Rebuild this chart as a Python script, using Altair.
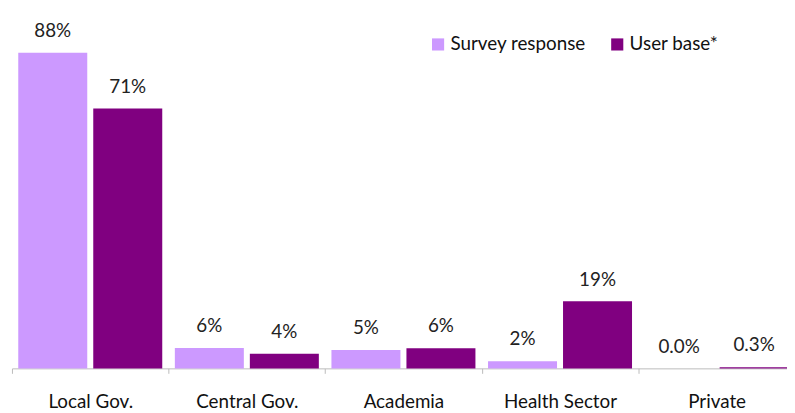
import altair as alt
import pandas as pd

categories = ["Local Gov.", "Central Gov.", "Academia", "Health Sector", "Private"]
series = ["Survey response", "User base*"]
survey = [88.1, 5.7, 5.1, 2.0, 0.0]
userbase = [72.5, 4.1, 5.6, 18.7, 0.3]
survey_labels = ["88%", "6%", "5%", "2%", "0.0%"]
userbase_labels = ["71%", "4%", "6%", "19%", "0.3%"]

rows = []
for i, c in enumerate(categories):
    rows.append({"cat": c, "series": series[0], "value": survey[i], "label": survey_labels[i]})
    rows.append({"cat": c, "series": series[1], "value": userbase[i], "label": userbase_labels[i]})
df = pd.DataFrame(rows)

FONT = "Lato"
FS = 19

x = alt.X("cat:N", sort=categories, title=None,
          scale=alt.Scale(paddingInner=0, paddingOuter=0),
          axis=alt.Axis(tickBand="extent", labelAngle=0, labelFontSize=FS, labelFont=FONT,
                        labelColor="#111", domainColor="#bbbbbb", tickColor="#bbbbbb",
                        tickSize=5, labelPadding=20, grid=False))
xo = alt.XOffset("series:N", sort=series,
                 scale=alt.Scale(paddingInner=0.08, paddingOuter=0.084))
y = alt.Y("value:Q", scale=alt.Scale(domain=[0, 100]), axis=None)

bars = alt.Chart(df).mark_bar().encode(
    x=x, xOffset=xo, y=y,
    color=alt.Color("series:N", sort=series,
                    scale=alt.Scale(domain=series, range=["#CC99FF", "#800080"]),
                    legend=alt.Legend(title=None, orient="none", legendX=421, legendY=25,
                                      direction="horizontal", symbolType="square",
                                      symbolSize=150, symbolStrokeWidth=0,
                                      labelFontSize=FS, labelFont=FONT, labelColor="#111",
                                      columnPadding=22, labelOffset=3)),
)

text = alt.Chart(df).mark_text(dy=-22, fontSize=FS, font=FONT, color="#222").encode(
    x=x, xOffset=xo, y=y, text="label:N"
)

chart = (bars + text).properties(
    width=791, height=362,
    autosize=alt.AutoSizeParams(type="none"),
    padding={"left": 4, "top": 0, "right": -8, "bottom": 43},
).configure_view(stroke=None)

chart.save("out.html", embed_options={"renderer": "svg", "actions": False})
